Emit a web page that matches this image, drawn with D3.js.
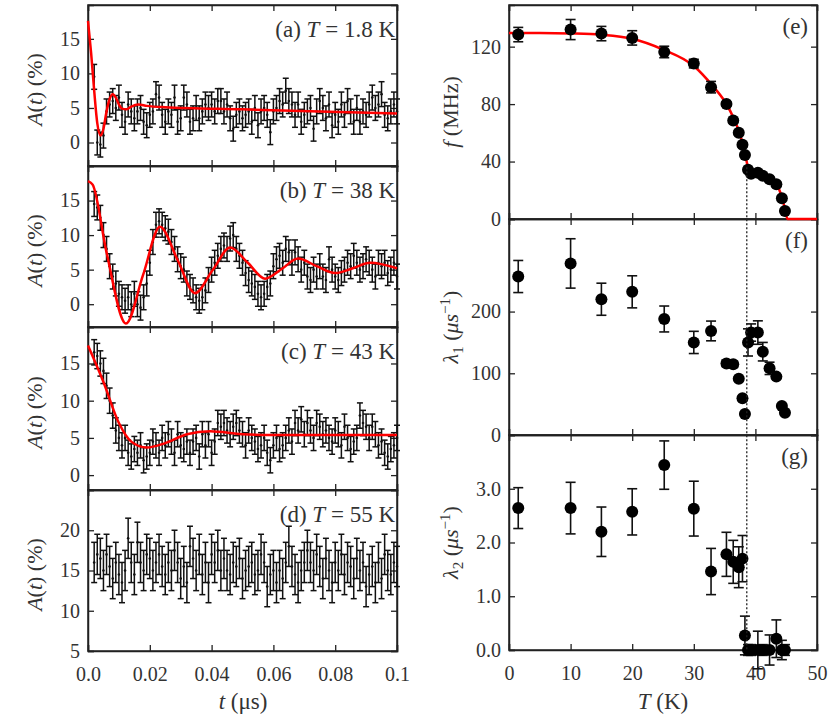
<!DOCTYPE html>
<html>
<head>
<script src="https://d3js.org/d3.v7.min.js"></script>
<style>
  body { margin: 0; background: #fff; }
  svg text { font-family: 'Liberation Serif', 'DejaVu Serif', serif !important; fill: #333; }
</style>
</head>
<body>
<script>
// ---- left column: muon asymmetry spectra ----
var asymA = [9.5,0.0,-0.3,1.0,4.5,5.5,6.0,5.0,6.5,4.0,3.0,5.5,4.5,3.5,4.5,5.0,3.0,2.5,4.0,4.5,7.0,6.5,4.0,3.0,4.5,4.0,6.5,3.0,3.5,6.5,5.5,3.0,3.5,5.0,3.5,4.5,5.5,5.0,5.5,4.5,6.0,6.0,4.5,5.5,3.5,2.0,4.0,4.5,3.5,4.0,4.5,3.0,5.0,2.5,4.5,5.0,4.0,1.5,4.5,5.0,6.0,5.5,7.5,6.0,5.5,4.0,5.5,3.0,4.0,4.5,5.0,2.0,4.5,6.0,5.0,3.5,5.5,2.5,4.0,3.0,5.5,4.0,6.0,4.5,3.0,5.0,3.0,4.5,4.0,5.5,6.5,5.0,5.5,7.0,4.0,3.5,4.5,5.5,4.5];
var asymB = [14.5,14,12.5,10,8,5.5,4,3,1.5,1,0.5,1,0,1.5,0,-0.5,1,3,6,9,11.5,12,11.5,11,10.5,9,8,6.5,5.5,5,3,2.5,2,1,0.5,1,2,3.5,5,6,7,8,8.5,8,9.5,10,8,7,6,4.5,3.5,3,2.5,1.5,1,1.5,2.5,3,5.5,6.5,7,6,8,7.5,6,7.5,6.5,5,6,4,3.5,5,4,5.5,4,3.5,6.5,5,4,3.5,4.5,5,6,5.5,7,6,5,5.5,6.5,6,5,4,6,5.5,6,4.5,5,6,4];
var asymC = [16.5,16,15,14,12,10,8,6,5,4,5,3,2.5,3.5,3,4,2,2.5,3,4.5,4,3,5,4,5.5,4.5,3,5.5,4,3.5,4.5,3,4.5,5,2.5,5.5,4,5.5,3,4.5,7,6.5,7,6,5.5,6.5,7,6,5.5,4,6,5,4.5,3.5,4,5,3,2,4,5,3.5,4,5,6,4.5,7,6,7.5,5.5,7,6,5,7,6.5,5.5,6,5,4.5,6,5.5,4,6.5,5,3.5,4.5,5,8,7,6.5,5,6.5,5.5,4,4.5,3,2.5,3.5,4,5];
var asymD = [16,17,16.5,15,17,15.5,14,16,14.5,13.5,15,19,16,14.5,18.5,16,15,17,16.5,15,16,17,15.5,14.5,16,15,17.5,16,14,15.5,13.5,18,16.5,15,17,14.5,16,13.5,17,16,17.5,15,16.5,15,14.5,16,15.5,16.5,14,15,15.5,16,14.5,15,17,16,13,14.5,15,13.5,15,14,16,18,15.5,14.5,13.5,15,16,17.5,16,15,17,15.5,14,16.5,15,13.5,16,15,17,14.5,16,15.5,14,16.5,15,16,13,14.5,15.5,13.5,16,14,17,15,14.5,16,15.5];
var errA = 1.8, errB = 1.8, errC = 1.7, errD = 2.5;
var fitA = [[0,17.6],[0.001,13],[0.002,7.5],[0.003,2.8],[0.0041,1.0],[0.005,2.0],[0.006,4.5],[0.007,6.3],[0.008,7.0],[0.009,6.5],[0.010,5.5],[0.011,4.9],[0.0125,4.8],[0.014,5.2],[0.0163,5.5],[0.019,5.3],[0.025,5.1],[0.05,4.8],[0.075,4.5],[0.1,4.2]];
var fitB = [[0,17.8],[0.0015,17.3],[0.006,7.5],[0.0123,-2.8],[0.0178,4.2],[0.0233,11.2],[0.029,6.4],[0.0346,1.6],[0.0403,4.9],[0.046,8.2],[0.0517,6.0],[0.0573,3.7],[0.0627,5.1],[0.068,6.6],[0.074,5.5],[0.08,4.5],[0.0857,5.2],[0.0913,6.0],[0.1,5.2]];
var fitC = [[0,17.4],[0.005,12.5],[0.01,7],[0.014,4.5],[0.019,3.7],[0.025,4.3],[0.032,5.5],[0.0395,5.9],[0.05,5.5],[0.06,5.4],[0.1,5.4]];

// ---- right column: fit parameters vs temperature ----
var temps = [1.5,10,15,20,25.2,30,32.8,35.3,36.4,37.3,37.9,38.3,38.8,39.3,40.4,41.2,42.3,43.4,44.3,44.8];
var freq = [128.4,131.9,129.1,126.1,116.3,108.2,91.8,80,68.5,60.1,51.7,44.5,34.3,31.5,32.2,30.1,27.7,24.2,14.5,5.6];
var freqErr = [5,7,5,5,4,3,4,1.5,1.5,1.5,1.5,1.5,1.5,1.5,1.5,1.5,1.5,1.5,1.5,1.5];
var lam1 = [256.8,278,220,232,188,150,168.6,116,114.6,91,59.5,34,150,166,166,135,108,94.6,47,36];
var lam1Err = [26,40,26,26,21,18,16,5,5,3,3,3,22,14,19,15,10,3,3,3];
var lam2 = [2.64,2.64,2.2,2.57,3.44,2.63,1.46,1.78,1.64,1.54,1.70,0.27,0,0,0,0,0,0.21,0,0];
var lam2Err = [0.38,0.48,0.46,0.43,0.45,0.51,0.43,0.41,0.4,0.38,0.43,0.36,0.1,0.1,0.35,0.1,0.28,0.35,0.18,0.1];
var fitF = [[0,129.5],[5,129.5],[10,129.2],[15,128.3],[20,125.5],[25,118],[30,106.5],[33,93],[35,82],[36.5,70],[37.5,59],[38.3,46],[38.8,36],[39.3,32],[40.4,32],[41.2,30.5],[42.3,28],[43.4,24.5],[44.3,15],[44.8,7],[45.2,0],[50,0]];
var tc = 38.6;

var svg = d3.select("body").append("svg").attr("width", 830).attr("height", 722);
var frames = svg.append("g");
var marks = svg.append("g");

function panel(p) {
  var x = d3.scaleLinear().domain(p.xd).range([p.x0, p.x1]);
  var y = d3.scaleLinear().domain(p.yd).range([p.y1, p.y0]);
  var g = frames.append("g");
  g.append("g").attr("transform", "translate(" + p.x0 + ",0)")
    .call(d3.axisLeft(y).tickValues(p.yt).tickSize(-6).tickFormat(p.yf || d3.format("d")).tickPadding(8));
  g.append("g").attr("transform", "translate(" + p.x1 + ",0)")
    .call(d3.axisRight(y).tickValues(p.yt).tickSize(-6).tickFormat(""));
  g.append("g").attr("transform", "translate(0," + p.y1 + ")")
    .call(d3.axisBottom(x).tickValues(p.xt).tickSize(-6).tickFormat(p.xf ? p.xf : "").tickPadding(16));
  g.append("g").attr("transform", "translate(0," + p.y0 + ")")
    .call(d3.axisTop(x).tickValues(p.xt).tickSize(-6).tickFormat(""));
  g.selectAll("g").attr("font-family", null).attr("font-size", null);
  g.selectAll(".domain").attr("stroke", "#222").attr("stroke-width", 1.5);
  g.selectAll(".tick line").attr("stroke", "#222").attr("stroke-width", 1.3);
  g.selectAll(".tick text").style("font-size", "20px").attr("fill", "#333");
  g.append("rect").attr("x", p.x0).attr("y", p.y0).attr("width", p.x1 - p.x0).attr("height", p.y1 - p.y0)
    .attr("fill", "none").attr("stroke", "#222").attr("stroke-width", 1.5);
  var m = marks.append("g");
  return {g: m, x: x, y: y};
}

function errorBars(P, xs, ys, es, cap, w) {
  var d = ys.map(function(v, i) { return {x: xs[i], y: v, e: Array.isArray(es) ? es[i] : es}; });
  var b = P.g.append("g").attr("stroke", "#111").attr("stroke-width", w || 1.5);
  b.selectAll(".v").data(d).enter().append("line")
    .attr("x1", function(d) { return P.x(d.x); }).attr("x2", function(d) { return P.x(d.x); })
    .attr("y1", function(d) { return P.y(d.y - d.e); }).attr("y2", function(d) { return P.y(d.y + d.e); });
  [-1, 1].forEach(function(s) {
    b.selectAll(".c" + s).data(d).enter().append("line")
      .attr("x1", function(d) { return P.x(d.x) - cap; }).attr("x2", function(d) { return P.x(d.x) + cap; })
      .attr("y1", function(d) { return P.y(d.y + s * d.e); }).attr("y2", function(d) { return P.y(d.y + s * d.e); });
  });
  return d;
}

function fitLine(P, pts) {
  P.g.append("path").datum(pts)
    .attr("d", d3.line().x(function(d) { return P.x(d[0]); }).y(function(d) { return P.y(d[1]); }).curve(d3.curveMonotoneX))
    .attr("fill", "none").attr("stroke", "#f00").attr("stroke-width", 2.5);
}

function label(x, y, html, size, anchor) {
  svg.append("text").attr("x", x).attr("y", y).attr("text-anchor", anchor || "end")
    .style("font-size", (size || 21) + "px").attr("fill", "#333").html(html);
}

// left column
var timeT = ["0.0", "0.02", "0.04", "0.06", "0.08", "0.1"];
var leftPanels = [
  {data: asymA, err: errA, fit: fitA, y0: 5, y1: 166, yd: [-3.4, 19.9], yt: [0, 5, 10, 15], lab: "(a) <tspan font-style='italic'>T</tspan> = 1.8 K"},
  {data: asymB, err: errB, fit: fitB, y0: 166, y1: 327, yd: [-3.3, 20], yt: [0, 5, 10, 15], lab: "(b) <tspan font-style='italic'>T</tspan> = 38 K"},
  {data: asymC, err: errC, fit: fitC, y0: 327, y1: 490, yd: [-2, 19.9], yt: [0, 5, 10, 15], lab: "(c) <tspan font-style='italic'>T</tspan> = 43 K"},
  {data: asymD, err: errD, fit: null, y0: 490, y1: 651, yd: [5, 25], yt: [5, 10, 15, 20], lab: "(d) <tspan font-style='italic'>T</tspan> = 55 K"}
];
leftPanels.forEach(function(lp, k) {
  var P = panel({x0: 88, x1: 397, y0: lp.y0, y1: lp.y1, xd: [0, 0.1], yd: lp.yd, yt: lp.yt,
    xt: [0, 0.02, 0.04, 0.06, 0.08, 0.1], xf: k == 3 ? function(d, i) { return timeT[i]; } : null});
  var ts = lp.data.map(function(v, i) { return (i + 2) * 0.001; });
  var d = errorBars(P, ts, lp.data, lp.err, 3, 1.5);
  P.g.selectAll(".pt").data(d).enter().append("circle")
    .attr("cx", function(d) { return P.x(d.x); }).attr("cy", function(d) { return P.y(d.y); })
    .attr("r", 1.3).attr("fill", "#111");
  if (lp.fit) fitLine(P, lp.fit);
  label(395, lp.y0 + 32, lp.lab, 23);
  svg.append("text").attr("transform", "translate(42," + ((lp.y0 + lp.y1) / 2 + 4) + ") rotate(-90)")
    .attr("text-anchor", "middle").style("font-size", "22px").attr("fill", "#333")
    .html("<tspan font-style='italic'>A</tspan>(<tspan font-style='italic'>t</tspan>) (%)");
});
label(243, 709, "<tspan font-style='italic'>t</tspan> (μs)", 23, "middle");

// right column
var tempT = [0, 10, 20, 30, 40, 50];
var rightPanels = [
  {v: freq, e: freqErr, y0: 5, y1: 219, yd: [0, 149], yt: [0, 40, 80, 120], yf: d3.format("d"), lab: "(e)", fit: fitF,
   ylab: "<tspan font-style='italic'>f</tspan> (MHz)"},
  {v: lam1, e: lam1Err, y0: 219, y1: 435, yd: [0, 350], yt: [0, 100, 200], yf: d3.format("d"), lab: "(f)",
   ylab: "<tspan font-style='italic'>λ</tspan><tspan font-size='15' dy='5'>1</tspan><tspan dy='-5'> (</tspan><tspan font-style='italic'>μs</tspan><tspan font-size='15' dy='-8'>−1</tspan><tspan dy='8'>)</tspan>"},
  {v: lam2, e: lam2Err, y0: 435, y1: 650, yd: [0, 4], yt: [0, 1, 2, 3], yf: d3.format(".1f"), lab: "(g)",
   ylab: "<tspan font-style='italic'>λ</tspan><tspan font-size='15' dy='5'>2</tspan><tspan dy='-5'> (</tspan><tspan font-style='italic'>μs</tspan><tspan font-size='15' dy='-8'>−1</tspan><tspan dy='8'>)</tspan>"}
];
var rp = [];
rightPanels.forEach(function(r, k) {
  var P = panel({x0: 509, x1: 817, y0: r.y0, y1: r.y1, xd: [0, 50], yd: r.yd, yt: r.yt, yf: r.yf,
    xt: tempT, xf: k == 2 ? function(d) { return d; } : null});
  rp.push(P);
  if (r.fit) fitLine(P, r.fit);
  var d = errorBars(P, temps, r.v, r.e, 5, 1.6);
  P.g.selectAll(".pt").data(d).enter().append("circle")
    .attr("cx", function(d) { return P.x(d.x); }).attr("cy", function(d) { return P.y(d.y); })
    .attr("r", 6).attr("fill", "#000");
  label(808, r.y0 + 29, r.lab, 23);
  svg.append("text").attr("transform", "translate(458," + ((r.y0 + r.y1) / 2) + ") rotate(-90)")
    .attr("text-anchor", "middle").style("font-size", "22px").attr("fill", "#333").html(r.ylab);
});
// dotted line at the transition
marks.append("line").attr("x1", rp[0].x(tc)).attr("x2", rp[0].x(tc))
  .attr("y1", rp[0].y(36)).attr("y2", rp[2].y(0))
  .attr("stroke", "#222").attr("stroke-width", 1.3).attr("stroke-dasharray", "2,2");
label(663, 709, "<tspan font-style='italic'>T</tspan> (K)", 23, "middle");
</script>
</body>
</html>
